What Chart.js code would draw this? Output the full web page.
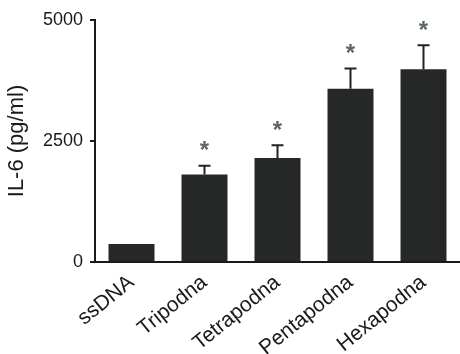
<!DOCTYPE html>
<html>
<head>
<meta charset="utf-8">
<script src="https://cdn.jsdelivr.net/npm/chart.js@4.4.1/dist/chart.umd.min.js"></script>
<style>
  html, body { margin: 0; padding: 0; background: #fff; }
</style>
</head>
<body>
<canvas id="barChart" width="460" height="354"></canvas>
<script>
// data
var categories = ["ssDNA", "Tripodna", "Tetrapodna", "Pentapodna", "Hexapodna"];
var il6 = [370, 1810, 2150, 3580, 3980];
var errUp = [0, 180, 260, 420, 500];
var marked = [false, true, true, true, true];
var yTicks = [0, 2500, 5000];

// error bars (upper only) + asterisks
var errPlugin = {
  id: "errPlugin",
  afterDatasetsDraw: function (chart) {
    var ctx = chart.ctx;
    var y = chart.scales.y;
    var meta = chart.getDatasetMeta(0);
    ctx.save();
    meta.data.forEach(function (bar, i) {
      var top = y.getPixelForValue(il6[i]);
      var cap = y.getPixelForValue(il6[i] + errUp[i]);
      if (errUp[i] > 0) {
        ctx.strokeStyle = "#222";
        ctx.lineWidth = 2;
        ctx.beginPath();
        ctx.moveTo(bar.x, top);
        ctx.lineTo(bar.x, cap);
        ctx.moveTo(bar.x - 6, cap);
        ctx.lineTo(bar.x + 6, cap);
        ctx.stroke();
      }
      if (marked[i]) {
        ctx.fillStyle = "#5a6666";
        ctx.font = "bold 24px 'Liberation Sans', Arial, sans-serif";
        ctx.textAlign = "center";
        ctx.textBaseline = "middle";
        ctx.fillText("*", bar.x, cap - 14);
      }
    });
    ctx.restore();
  }
};

var ctx = document.getElementById("barChart").getContext("2d");
var myBarChart = new Chart(ctx, {
  type: "bar",
  data: {
    labels: categories,
    datasets: [{
      data: il6,
      backgroundColor: "#262828",
      borderWidth: 0,
      barPercentage: 0.63,
      categoryPercentage: 1
    }]
  },
  options: {
    responsive: false,
    animation: false,
    layout: { padding: { top: 20, right: 0, left: 4, bottom: 0 } },
    plugins: { legend: { display: false }, tooltip: { enabled: false } },
    scales: {
      x: {
        grid: { display: false, drawTicks: false },
        border: { color: "#1a1a1a", width: 2 },
        ticks: {
          color: "#1a1a1a",
          autoSkip: false,
          font: { family: "'Liberation Sans', Arial, sans-serif", size: 21 },
          minRotation: 39,
          maxRotation: 39,
          padding: 8
        },
        afterFit: function (scale) { scale.height = 92; }
      },
      y: {
        min: 0,
        max: 5000,
        afterBuildTicks: function (scale) {
          scale.ticks = yTicks.map(function (v) { return { value: v }; });
        },
        grid: { drawOnChartArea: false, tickLength: 5, color: "#1a1a1a", lineWidth: 2 },
        border: { color: "#1a1a1a", width: 2 },
        ticks: {
          color: "#1a1a1a",
          font: { family: "'Liberation Sans', Arial, sans-serif", size: 18 },
          padding: 7,
          callback: function (v) { return String(v); }
        },
        title: {
          display: true,
          text: "IL-6 (pg/ml)",
          color: "#1a1a1a",
          font: { family: "'Liberation Sans', Arial, sans-serif", size: 22 },
          padding: { top: 0, bottom: 2 }
        },
        afterFit: function (scale) { scale.width = 91; }
      }
    }
  },
  plugins: [errPlugin]
});
</script>
</body>
</html>
